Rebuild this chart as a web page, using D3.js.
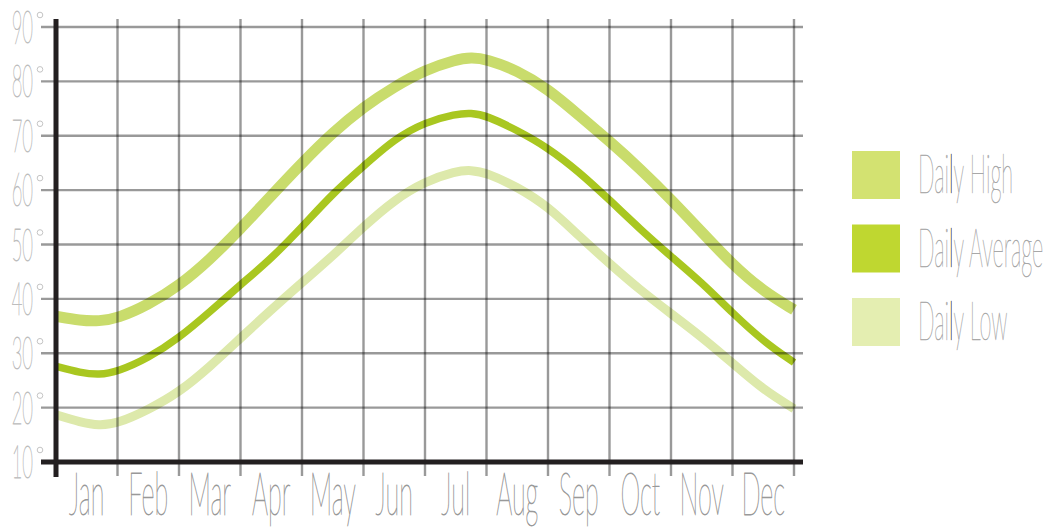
<!DOCTYPE html>
<html>
<head>
<meta charset="utf-8">
<script src="https://cdn.jsdelivr.net/npm/d3@7"></script>
<style>
  body { margin: 0; background: #fff; }
  svg { display: block; }
  .thin { font-family: "Lato", "Roboto", "Inter", sans-serif; font-weight: 100; vector-effect: non-scaling-stroke; }
</style>
</head>
<body>
<svg id="chart"></svg>
<script>
// values (month units: 0 = 1 Jan, 12 = 31 Dec)
const months = ["Jan", "Feb", "Mar", "Apr", "May", "Jun", "Jul", "Aug", "Sep", "Oct", "Nov", "Dec"];
const monthPos = [0, 0.4, 0.7, 1, 1.5, 2, 2.5, 3, 3.5, 4, 4.5, 5, 5.5, 6, 6.5, 6.75, 7, 7.5, 8, 8.5, 9, 9.5, 10, 10.5, 11, 11.5, 12];
const dailyHigh = [36.8, 36.0, 35.9, 36.4, 38.9, 42.4, 47.2, 52.9, 59.0, 65.0, 70.6, 75.3, 79.0, 82.1, 84.0, 84.4, 84.1, 82.0, 78.6, 73.8, 69.0, 63.9, 58.3, 52.3, 46.3, 41.4, 38.0];
const dailyAvg = [27.6, 26.4, 26.0, 26.6, 29.1, 32.8, 37.6, 42.6, 47.4, 53.2, 59.4, 64.4, 69.4, 72.5, 74.0, 74.2, 73.7, 71.0, 67.8, 63.4, 58.2, 52.8, 47.8, 43.0, 37.4, 32.2, 28.3];
const dailyLow = [18.7, 17.3, 16.7, 17.1, 19.6, 22.8, 27.5, 32.8, 38.0, 43.0, 47.9, 53.3, 58.2, 61.6, 63.5, 63.7, 63.2, 60.6, 57.0, 51.6, 46.5, 41.6, 37.3, 33.0, 28.2, 23.3, 19.8];
const yTicks = [10, 20, 30, 40, 50, 60, 70, 80, 90];
const seriesNames = ["Daily High", "Daily Average", "Daily Low"];

const width = 1059, height = 527;
const svg = d3.select('#chart').attr('width', width).attr('height', height);

const x = d3.scaleLinear().domain([0, 12]).range([56, 794]);
const y = d3.scaleLinear().domain([10, 90]).range([462, 27]);

// lines first, the grid sits on top of them
const series = [
    {name: seriesNames[0], values: dailyHigh, color: "#c9dc6c", width: 11, legend: "#d3e271"},
    {name: seriesNames[1], values: dailyAvg, color: "#a9c720", width: 7.5, legend: "#bfd730"},
    {name: seriesNames[2], values: dailyLow, color: "#dde9ab", width: 9, legend: "#e4eeb1"}
];
const line = d3.line()
    .x((d, i) => x(monthPos[i]))
    .y(d => y(d))
    .curve(d3.curveBasis);

svg.append('g').selectAll('path')
    .data(series.slice().reverse())
    .join('path')
    .attr('d', d => line(d.values))
    .attr('fill', 'none')
    .attr('stroke', d => d.color)
    .attr('stroke-width', d => d.width);

// grid
let grid = svg.append('g')
    .attr('stroke', '#000')
    .attr('stroke-opacity', 0.4)
    .attr('stroke-width', 2.4);
grid.selectAll('.h')
    .data(yTicks.slice(1))
    .join('line')
    .attr('x1', 41).attr('x2', 803)
    .attr('y1', d => y(d)).attr('y2', d => y(d));
grid.selectAll('.v')
    .data(d3.range(1, 13))
    .join('line')
    .attr('x1', d => x(d)).attr('x2', d => x(d))
    .attr('y1', 19).attr('y2', 476);

// heavy axes
svg.append('line')
    .attr('x1', 41).attr('x2', 803)
    .attr('y1', y(10)).attr('y2', y(10))
    .attr('stroke', '#231f20').attr('stroke-width', 5);
svg.append('line')
    .attr('x1', x(0)).attr('x2', x(0))
    .attr('y1', 19).attr('y2', 477)
    .attr('stroke', '#231f20').attr('stroke-width', 5);

// y labels
let yl = svg.append('g');
yl.selectAll('text.num')
    .data(yTicks)
    .join('text')
    .attr('class', 'thin')
    .attr('text-anchor', 'end')
    .attr('font-size', 46)
    .attr('fill', '#bdbdbd')
    .attr('stroke', '#bdbdbd')
    .attr('stroke-width', 0.6)
    .attr('transform', d => 'translate(33,' + (y(d) + 16) + ') scale(0.4,1)')
    .text(d => d);
yl.selectAll('circle.deg')
    .data(yTicks)
    .join('circle')
    .attr('cx', 40)
    .attr('cy', d => y(d) - 12)
    .attr('r', 2.8)
    .attr('fill', 'none')
    .attr('stroke', '#bdbdbd')
    .attr('stroke-width', 0.9);

// month labels
svg.append('g').selectAll('text')
    .data(months)
    .join('text')
    .attr('class', 'thin')
    .attr('text-anchor', 'middle')
    .attr('font-size', 60)
    .attr('fill', '#999')
    .attr('stroke', '#999')
    .attr('stroke-width', 0.6)
    .attr('transform', (d, i) => 'translate(' + x(i + 0.5) + ',515) scale(0.42,1)')
    .text(d => d);

// legend
let legend = svg.append('g').selectAll('g')
    .data(series)
    .join('g')
    .attr('transform', (d, i) => 'translate(852,' + (151 + i * 73.5) + ')');
legend.append('rect')
    .attr('width', 48).attr('height', 48)
    .attr('fill', d => d.legend);
let lt = legend.append('text')
    .attr('class', 'thin')
    .attr('font-size', 53)
    .attr('fill', '#a8a8a8')
    .attr('stroke', '#a8a8a8')
    .attr('stroke-width', 0.6)
    .attr('transform', 'translate(66,42) scale(0.41,1)');
lt.append('tspan').text('Dai');
lt.append('tspan').attr('fill', '#231f20').attr('stroke', '#231f20').text('l');
lt.append('tspan').text(d => d.name.slice(4));
</script>
</body>
</html>
